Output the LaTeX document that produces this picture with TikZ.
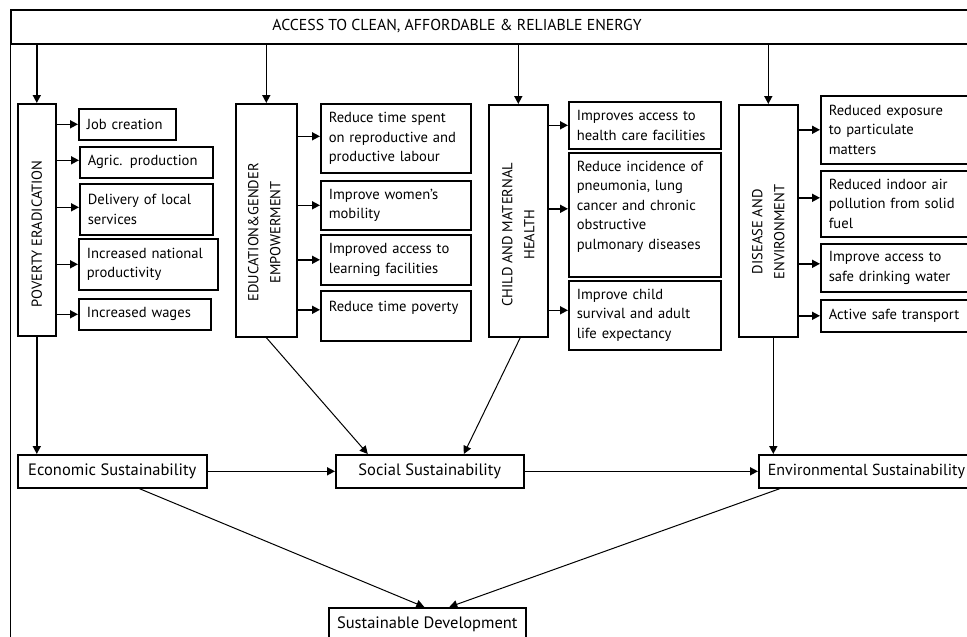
\documentclass[tikz,border=0pt]{standalone}
\usepackage{fontspec}
\setmainfont{PT Sans}
\usetikzlibrary{arrows.meta}
\tikzset{>/.tip={Triangle[length=8pt,width=8pt]},
  panel/.style={draw, line width=1.6pt, anchor=north west},
  item/.style={draw, line width=1.6pt, anchor=north west, align=left,
    inner xsep=8pt, inner ysep=2pt, font=\fontsize{14.6}{19.5}\selectfont},
  ptext/.style={rotate=90, align=center, font=\fontsize{14.5}{22}\selectfont},
  goal/.style={draw, line width=1.6pt, anchor=north west, minimum height=33pt,
    font=\fontsize{16.5}{20}\selectfont},
  arr/.style={->, line width=1.6pt},
  link/.style={->, line width=1pt}}

\begin{document}
\begin{tikzpicture}[x=1pt,y=-1pt]
\useasboundingbox (0,0) rectangle (967,637);
\clip (0,0) rectangle (967,637);

% top
\node[panel, minimum width=980pt, minimum height=34pt] (energy) at (10,9) {};
\node[font=\fontsize{15.8}{18}\selectfont] (energytxt) at (457,26) {ACCESS TO CLEAN, AFFORDABLE \& RELIABLE ENERGY};
\draw[line width=0.9pt] (energy.south west) to ++(0,610);

% pillars
\node[panel, minimum width=38pt, minimum height=232pt] (pov) at (17,103) {};
\node[panel, minimum width=61pt, minimum height=233pt] (edu) at (235,103) {};
\node[panel, minimum width=59pt, minimum height=232pt] (chm) at (488,104) {};
\node[panel, minimum width=59pt, minimum height=232pt] (dis) at (738,104) {};
\node[ptext] (povtxt) at ([yshift=-14pt]pov.center) {POVERTY ERADICATION};
\node[ptext] (edutxt) at ([yshift=-12pt,xshift=-2pt]edu.center) {EDUCATION\&GENDER\\EMPOWERMENT};
\node[ptext] (chmtxt) at ([yshift=-14pt]chm.center) {CHILD AND MATERNAL\\HEALTH};
\node[ptext] (distxt) at ([yshift=-11pt]dis.center) {DISEASE AND\\ENVIRONMENT};

% poverty
\node[item, text width=81pt, minimum height=31pt] (job) at (78,108) {Job creation};
\node[item, text width=117pt, minimum height=31pt] (agr) at (79,146) {Agric. production};
\node[item, text width=117pt, minimum height=51pt] (del) at (79,183) {Delivery of local\\services};
\node[item, text width=123pt, minimum height=51pt] (nat) at (78,238) {Increased national\\productivity};
\node[item, text width=116pt, minimum height=31pt] (wag) at (78,298) {Increased wages};

% education
\node[item, text width=134pt, minimum height=69pt] (rts) at (320,103) {Reduce time spent\\on reproductive and\\productive labour};
\node[item, text width=134pt, minimum height=49pt] (mob) at (320,180) {Improve women’s\\mobility};
\node[item, text width=134pt, minimum height=50pt] (lrn) at (320,234) {Improved access to\\learning facilities};
\node[item, text width=134pt, minimum height=50pt] (tpv) at (320,290) {Reduce time poverty\\\mbox{}};

% health
\node[item, text width=136pt, minimum height=47pt] (hcf) at (568,101) {Improves access to\\health care facilities};
\node[item, text width=136pt, minimum height=124pt] (pnm) at (568,152) {Reduce incidence of\\pneumonia, lung\\cancer and chronic\\obstructive\\pulmonary diseases\\\mbox{}};
\node[item, text width=136pt, minimum height=69pt] (csv) at (568,280) {Improve child\\survival and adult\\life expectancy};

% environment
\node[item, text width=144pt, minimum height=68pt] (exp) at (820,95) {Reduced exposure\\to particulate\\matters};
\node[item, text width=144pt, minimum height=66pt] (ind) at (820,170) {Reduced indoor air\\pollution from solid\\fuel};
\node[item, text width=144pt, minimum height=48pt] (wat) at (820,243) {Improve access to\\safe drinking water};
\node[item, text width=144pt, minimum height=32pt] (trn) at (820,299) {Active safe transport};

% sustainability
\node[goal, minimum width=189pt] (eco) at (17,454) {Economic Sustainability};
\node[goal, minimum width=188pt] (soc) at (335,454) {Social Sustainability};
\node[goal, inner xsep=9pt, font=\fontsize{16}{20}\selectfont] (env) at (758,454) {Environmental Sustainability};
\node[goal, minimum width=197pt] (sd) at (328,607) {Sustainable Development};

\draw[arr] (pov.north |- energy.south) to (pov.north);
\draw[arr] (edu.north |- energy.south) to (edu.north);
\draw[arr] (chm.north |- energy.south) to (chm.north);
\draw[arr] (dis.north |- energy.south) to (dis.north);

\draw[arr] (pov.east |- job.west) to (job.west);
\draw[arr] ([yshift=2pt]pov.east |- agr.west) to ([yshift=2pt]agr.west);
\draw[arr] ([yshift=2pt]pov.east |- del.west) to ([yshift=2pt]del.west);
\draw[arr] (pov.east |- nat.west) to (nat.west);
\draw[arr] (pov.east |- wag.west) to (wag.west);

\draw[arr] ([yshift=2pt]edu.east |- rts.west) to ([yshift=2pt]rts.west);
\draw[arr] (edu.east |- mob.west) to (mob.west);
\draw[arr] (edu.east |- lrn.west) to (lrn.west);
\draw[arr] ([yshift=6pt]edu.east |- tpv.west) to ([yshift=6pt]tpv.west);

\draw[arr] (chm.east |- hcf.west) to (hcf.west);
\draw[arr] ([yshift=6pt]chm.east |- pnm.west) to ([yshift=6pt]pnm.west);
\draw[arr] ([yshift=5pt]chm.east |- csv.west) to ([yshift=5pt]csv.west);

\draw[arr] (dis.east |- exp.west) to (exp.west);
\draw[arr] ([yshift=6pt]dis.east |- ind.west) to ([yshift=6pt]ind.west);
\draw[arr] ([yshift=4pt]dis.east |- wat.west) to ([yshift=4pt]wat.west);
\draw[arr] (dis.east |- trn.west) to (trn.west);

\draw[arr] (pov.south) to (pov.south |- eco.north);
\draw[arr] ([xshift=5pt]dis.south) to ([xshift=5pt]dis.south |- env.north);
\draw[link] (edu.south) to ([xshift=-62pt]soc.north);
\draw[link] ([xshift=2pt]chm.south) to ([xshift=34pt]soc.north);
\draw[arr] (eco.east) to (soc.west);
\draw[arr] (soc.east) to (env.west);
\draw[link] ([xshift=27pt]eco.south) to ([xshift=-3pt]sd.north);
\draw[link] ([xshift=22pt]env.south west) to ([xshift=22pt]sd.north);
\end{tikzpicture}
\end{document}
